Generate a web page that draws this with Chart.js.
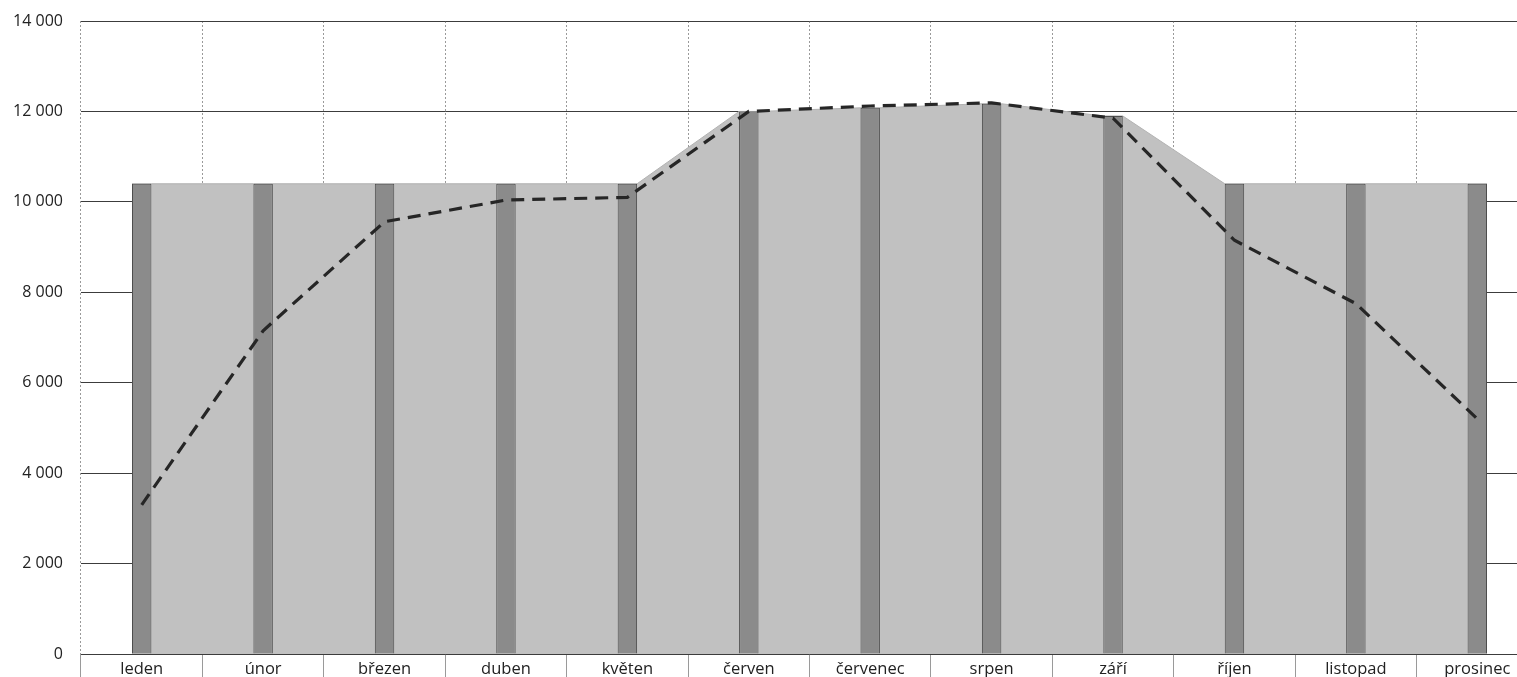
<!DOCTYPE html>
<html>
<head>
<meta charset="utf-8">
<script src="https://cdn.jsdelivr.net/npm/chart.js@4"></script>
<style>
  html, body { margin:0; padding:0; background:#fff; overflow:hidden; }
  #wrap { width:1517px; height:677px; overflow:hidden; }
</style>
</head>
<body>
<div id="wrap"><canvas id="chart" width="1540" height="677"></canvas></div>
<script>
const months = ['leden','únor','březen','duben','květen','červen','červenec','srpen','září','říjen','listopad','prosinec'];
const capacity = [10400,10400,10400,10400,10400,12000,12080,12170,11900,10400,10400,10400];
const demand = [3300,7150,9560,10040,10100,12000,12120,12190,11850,9150,7750,5200];
const yTicks = [0,2000,4000,6000,8000,10000,12000,14000];

const barPct = 0.16;
const fmt = v => String(v).replace(/\B(?=(\d{3})+(?!\d))/g, ' ');

// area hugs each bar top, then slopes to the next one
const areaPts = [];
capacity.forEach((v,i) => {
  areaPts.push({x: i - barPct/2, y: v});
  areaPts.push({x: i + barPct/2, y: v});
});

const ctx = document.getElementById('chart').getContext('2d');
new Chart(ctx, {
  type: 'bar',
  data: {
    labels: months,
    datasets: [
      { type:'line', xAxisID:'x', data: demand, borderColor:'#262626', borderWidth:3.2, borderDash:[13,8],
        pointRadius:0, fill:false, tension:0, order:0 },
      { xAxisID:'x', data: capacity, backgroundColor:'#8b8b8b', borderColor:'#4d4d4d', borderWidth:1,
        categoryPercentage:1, barPercentage:barPct, grouped:false, order:1 },
      { type:'line', xAxisID:'xa', data: areaPts, backgroundColor:'#c1c1c1', borderColor:'#b2b2b2',
        borderWidth:1, pointRadius:0, fill:'origin', tension:0, order:2 }
    ]
  },
  options: {
    responsive:false, animation:false,
    layout:{ padding:{ top:21, right:2, left:0, bottom:0 } },
    plugins:{ legend:{display:false}, tooltip:{enabled:false} },
    scales:{
      x:{
        offset:true,
        grid:{ offset:true, color:'#9a9a9a', lineWidth:1, tickLength:23 },
        border:{ display:false, dash:[2,2] },
        ticks:{ padding:-18, color:'#222', font:{ family:'Open Sans', size:16.5 } },
        afterFit: s => { s.height = 23; }
      },
      xa:{ type:'linear', display:false, offset:false, grid:{offset:false}, min:-0.5, max:months.length-0.5 },
      y:{
        min:0, max:14000,
        afterBuildTicks: s => { s.ticks = yTicks.map(v => ({value:v})); },
        grid:{ color:'#3c3c3c', lineWidth:1, tickLength:18, tickColor:'rgba(0,0,0,0)' },
        border:{ display:false },
        ticks:{ padding:0, color:'#222', font:{ family:'Open Sans', size:16 }, callback: v => fmt(v) },
        afterFit: s => { s.width = 81; }
      }
    }
  }
});
</script>
</body>
</html>
